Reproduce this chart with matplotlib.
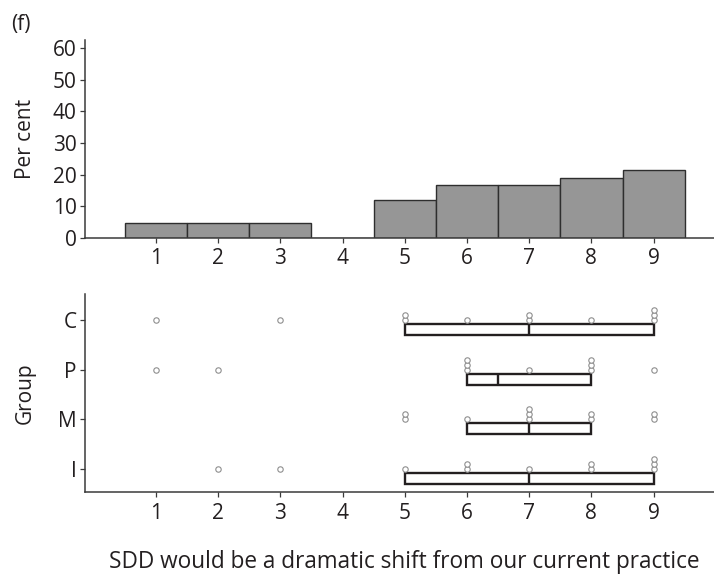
import matplotlib
matplotlib.use("Agg")
import matplotlib.pyplot as plt
import numpy as np

plt.rcParams['font.family'] = ['Open Sans', 'DejaVu Sans']

# ---- data ----
scale_points = [1, 2, 3, 4, 5, 6, 7, 8, 9]
per_cent = [4.76, 4.76, 4.76, 0.0, 11.9, 16.67, 16.67, 19.05, 21.43]

groups = ["I", "M", "P", "C"]
# number of responses at each scale point (1..9) per group
counts_I = [0, 1, 1, 0, 1, 2, 1, 2, 3]
counts_M = [0, 0, 0, 0, 2, 1, 3, 2, 2]
counts_P = [1, 1, 0, 0, 0, 3, 1, 3, 1]
counts_C = [1, 0, 1, 0, 2, 1, 2, 1, 3]

# box statistics per group (I, M, P, C)
q1 = [5, 6, 6, 5]
median = [7, 7, 6.5, 7]
q3 = [9, 8, 8, 9]

ytick_vals = [0, 10, 20, 30, 40, 50, 60]

# ---- style ----
TXT = '#231f20'
SP = '#3a3a3a'
FS = 15

fig = plt.figure(figsize=(7.14, 5.74), dpi=100)
W, H = 714, 574

def ax_rect(l, t, r, b):
    return [l / W, 1 - b / H, (r - l) / W, (b - t) / H]

ax1 = fig.add_axes(ax_rect(85, 40, 714, 237.7))
ax2 = fig.add_axes(ax_rect(85, 294, 714, 492.3))

xlim = (-0.14, 9.97)

# top histogram
ax1.bar(scale_points, per_cent, width=1.0, color='#969696', edgecolor='#2e2e2e',
        linewidth=1.0, zorder=2)
ax1.set_xlim(*xlim)
ax1.set_ylim(0, 62.6)
ax1.set_yticks(ytick_vals)
ax1.set_xticks(scale_points)
ax1.set_ylabel('Per cent', fontsize=FS, color=TXT)
ax1.yaxis.set_label_coords(-0.078, 0.5)

# bottom group plot
all_counts = [counts_I, counts_M, counts_P, counts_C]
ypos = [1, 2, 3, 4]
step = 0.101
for gy, cnts in zip(ypos, all_counts):
    xs, ys = [], []
    for xv, n in zip(scale_points, cnts):
        for k in range(n):
            xs.append(xv)
            ys.append(gy + k * step)
    ax2.plot(xs, ys, linestyle='none', marker='o', markersize=3.9,
             markerfacecolor='white', markeredgecolor='#8e8e8e',
             markeredgewidth=0.8, zorder=3)

off = 0.195
bh = 0.22
box_y = [y - off for y in ypos]
ax2.barh(box_y, [b - a for a, b in zip(q1, q3)], left=q1, height=bh,
         color='white', edgecolor=TXT, linewidth=1.7, zorder=2)
ax2.vlines(median, [y - bh / 2 for y in box_y], [y + bh / 2 for y in box_y],
           color=TXT, linewidth=1.7, zorder=4)

ax2.set_xlim(*xlim)
ax2.set_ylim(0.525, 4.525)
ax2.set_yticks(ypos)
ax2.set_yticklabels(groups)
ax2.set_xticks(scale_points)
ax2.set_ylabel('Group', fontsize=FS, color=TXT)
ax2.yaxis.set_label_coords(-0.078, 0.5)

for ax in (ax1, ax2):
    for s in ('top', 'right'):
        ax.spines[s].set_visible(False)
    for s in ('left', 'bottom'):
        ax.spines[s].set_color(SP)
        ax.spines[s].set_linewidth(1.1)
    ax.tick_params(axis='both', colors=SP, labelcolor=TXT, labelsize=FS,
                   length=3.5, width=0.9, pad=2.5)
    ax.tick_params(axis='x', pad=4)

fig.text(0.016, 0.958, '(f)', fontsize=FS, color=TXT, ha='left', va='center')
fig.text(0.566, 0.0214, 'SDD would be a dramatic shift from our current practice',
         fontsize=16.3, color=TXT, ha='center', va='center')

fig.savefig('out.png', dpi=100)
